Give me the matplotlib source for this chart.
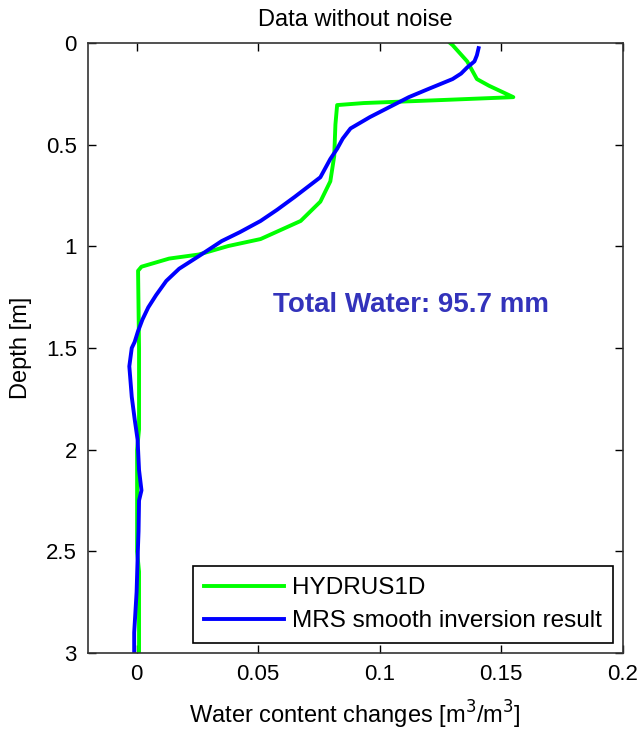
import matplotlib
matplotlib.use("Agg")
import matplotlib.pyplot as plt

plt.rcParams['font.family'] = ['Liberation Sans', 'DejaVu Sans']

# HYDRUS1D simulated water content change profile
hyd_depth = [0.0, 0.01, 0.09, 0.177, 0.21, 0.266, 0.28, 0.295, 0.305, 0.40, 0.556,
             0.68, 0.78, 0.875, 0.964, 0.998, 1.04, 1.06, 1.10, 1.12, 1.5, 1.9,
             2.0, 2.5, 2.6, 3.0]
hyd_theta = [0.129, 0.130, 0.136, 0.140, 0.145, 0.155, 0.126, 0.0935, 0.0825, 0.0818,
             0.0813, 0.0797, 0.0756, 0.0675, 0.051, 0.0378, 0.0256, 0.0134, 0.002,
             0.0006, 0.001, 0.001, 0.0002, 0.0002, 0.001, 0.001]

# MRS smooth inversion result
mrs_depth = [0.025, 0.06, 0.09, 0.12, 0.15, 0.177, 0.226, 0.266, 0.315, 0.364, 0.42,
             0.47, 0.52, 0.57, 0.66, 0.757, 0.82, 0.875, 0.93, 0.974, 1.048, 1.11,
             1.17, 1.24, 1.30, 1.36, 1.42, 1.47, 1.5, 1.59, 1.74, 1.85, 1.95, 2.1,
             2.2, 2.25, 2.4, 2.5, 2.7, 2.9, 3.0]
mrs_theta = [0.1407, 0.1400, 0.139, 0.136, 0.1335, 0.130, 0.120, 0.112, 0.104, 0.096,
             0.088, 0.0848, 0.0825, 0.0797, 0.0756, 0.065, 0.0578, 0.051, 0.0425,
             0.035, 0.0256, 0.0175, 0.0122, 0.008, 0.0048, 0.0024, 0.0005, -0.0008,
             -0.002, -0.003, -0.002, -0.0008, 0.0004, 0.001, 0.002, 0.001, 0.0008,
             0.0005, 0.0, -0.001, -0.001]

total_water = 95.7

fig = plt.figure(figsize=(6.4, 7.3), dpi=100)
ax = fig.add_axes([0.1375, 0.1055, 0.8355, 0.8355])

ax.plot(hyd_theta, hyd_depth, color="#00ff00", lw=2.8, label="HYDRUS1D")
ax.plot(mrs_theta, mrs_depth, color="#0000ff", lw=2.8,
        label="MRS smooth inversion result")

ax.set_xlim(-0.02, 0.2)
ax.set_ylim(3, 0)
ax.set_xticks([0, 0.05, 0.1, 0.15, 0.2])
ax.set_xticklabels(["0", "0.05", "0.1", "0.15", "0.2"])
ax.set_yticks([0, 0.5, 1, 1.5, 2, 2.5, 3])
ax.set_yticklabels(["0", "0.5", "1", "1.5", "2", "2.5", "3"])
ax.tick_params(direction="in", top=True, right=True, length=6, width=1,
               labelsize=16, pad=8)
for s in ax.spines.values():
    s.set_linewidth(1.2)
    s.set_color("#333333")

ax.set_title("Data without noise", fontsize=17, pad=12)
ax.set_xlabel("Water content changes [m$^3$/m$^3$]", fontsize=17, labelpad=10)
ax.set_ylabel("Depth [m]", fontsize=17, labelpad=10)

ax.text(0.113, 1.29, "Total Water: %.1f mm" % total_water, color="#3333bb",
        fontsize=20, fontweight="bold", ha="center", va="center")

leg = ax.legend(loc="lower right", bbox_to_anchor=(0.981, 0.016), fontsize=17.5,
                fancybox=False, framealpha=1, edgecolor="black",
                handlelength=3.3, handletextpad=0.3, borderpad=0.45,
                labelspacing=0.45, borderaxespad=0)
leg.get_frame().set_linewidth(1.2)

fig.savefig("out.png", dpi=100)
